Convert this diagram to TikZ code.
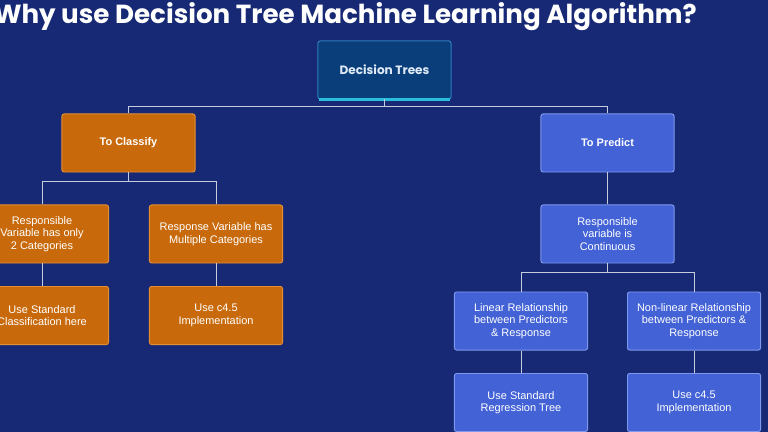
\documentclass[tikz,border=0pt]{standalone}
\usepackage{fontspec}
\setmainfont{Liberation Sans}
\newfontfamily\titlefont{Poppins}
\usetikzlibrary{positioning}

\begin{document}
\begin{tikzpicture}[x=0.025cm, y=-0.025cm, every node/.style={font=\fontsize{7.8}{9}\selectfont, text=white, align=center}]
  % Colors
  \definecolor{bgblue}{RGB}{23,41,117}
  \definecolor{rootfill}{RGB}{10,62,122}
  \definecolor{rootedge}{RGB}{45,125,185}
  \definecolor{rootcyan}{RGB}{40,190,220}
  \definecolor{orfill}{RGB}{200,106,12}
  \definecolor{oredge}{RGB}{228,142,52}
  \definecolor{blfill}{RGB}{66,98,214}
  \definecolor{bledge}{RGB}{125,152,236}
  \definecolor{linkgray}{RGB}{196,204,222}

  \tikzset{
    box/.style={rounded corners=1.5pt, line width=0.7pt, minimum width=3.325cm, minimum height=1.45cm, inner sep=1pt},
    orbox/.style={box, fill=orfill, draw=oredge},
    blbox/.style={box, fill=blfill, draw=bledge},
    head/.style={font=\fontsize{7.8}{9}\selectfont\bfseries},
    link/.style={draw=linkgray, line width=0.6pt}
  }

  % Background
  \fill[bgblue] (0,0) rectangle (768,432);
  \clip (0,0) rectangle (768,432);

  % Title
  \node[anchor=base east, inner sep=0, font=\titlefont\fontsize{18.6}{22}\selectfont\bfseries] (title) at (697,24)
    {Why use Decision Tree Machine Learning Algorithm?};

  % Root
  \node[box, fill=rootfill, draw=rootedge, minimum height=1.45cm, text={rgb,255:red,222;green,234;blue,246},
    font=\titlefont\fontsize{8.6}{10}\selectfont\bfseries] (root) at (384.5,70) {Decision Trees};
  \draw[rootcyan, line width=1.6pt] ([xshift=1pt]root.south west) -- ([xshift=-1pt]root.south east);

  % Classify branch
  \node[orbox, head] (cls) at (128.5,143) {To Classify};
  \node[orbox] (two) at (42,234) {Responsible\\Variable has only\\2 Categories};
  \node[orbox] (multi) at (216,234) {Response Variable has\\Multiple Categories};
  \node[orbox] (std) at (42,315.5) {Use Standard\\Classification here};
  \node[orbox] (cfour) at (216,315.5) {Use c4.5\\Implementation};

  % Predict branch
  \node[blbox, head] (pred) at (607.5,143) {To Predict};
  \node[blbox] (cont) at (607.5,234) {Responsible\\variable is\\Continuous};
  \node[blbox] (lin) at (521,321) {Linear Relationship\\between Predictors\\\& Response};
  \node[blbox] (nonlin) at (694,321) {Non-linear Relationship\\between Predictors \&\\Response};
  \node[blbox] (regr) at (521,402.5) {Use Standard\\Regression Tree};
  \node[blbox] (cfive) at (694,402.5) {Use c4.5\\Implementation};

  % Connectors
  \draw[link] (root.south) -- ++(0,7) -| (cls.north);
  \draw[link] (root.south) -- ++(0,7) -| (pred.north);
  \draw[link] (cls.south) -- ++(0,9) -| (two.north);
  \draw[link] (cls.south) -- ++(0,9) -| (multi.north);
  \draw[link] (two) -- (std);
  \draw[link] (multi) -- (cfour);
  \draw[link] (pred) -- (cont);
  \draw[link] (cont.south) -- ++(0,9) -| (lin.north);
  \draw[link] (cont.south) -- ++(0,9) -| (nonlin.north);
  \draw[link] (lin) -- (regr);
  \draw[link] (nonlin) -- (cfive);
\end{tikzpicture}
\end{document}
